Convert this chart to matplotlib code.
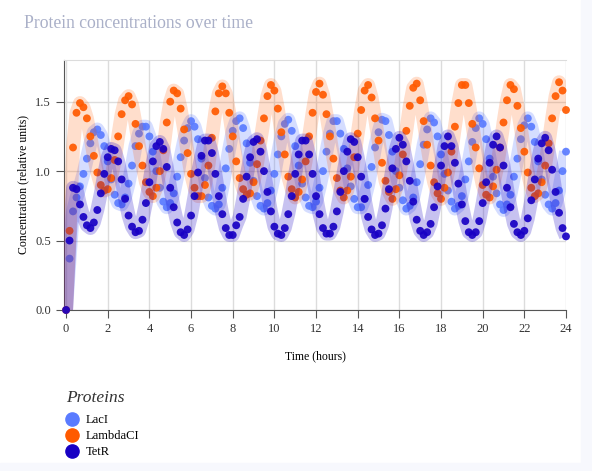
import numpy as np
import matplotlib
matplotlib.use("Agg")
import matplotlib.pyplot as plt
from matplotlib.lines import Line2D
from matplotlib.patches import Rectangle

plt.rcParams['font.family'] = ['Liberation Serif', 'DejaVu Serif']

# sampling grid: every 10 minutes over 24 hours
hours = np.linspace(0, 24, 145)

laci = [
    0.00, 0.37, 0.71, 0.81, 0.89, 0.98, 1.09, 1.20, 1.28, 1.30,
    1.26, 1.18, 1.07, 0.94, 0.83, 0.77, 0.76, 0.81, 0.91, 1.04,
    1.18, 1.27, 1.32, 1.32, 1.25, 1.14, 1.00, 0.88, 0.78, 0.74,
    0.77, 0.84, 0.96, 1.10, 1.22, 1.31, 1.36, 1.32, 1.23, 1.09,
    0.95, 0.81, 0.75, 0.73, 0.76, 0.88, 1.02, 1.16, 1.29, 1.36,
    1.38, 1.31, 1.20, 1.06, 0.93, 0.82, 0.75, 0.73, 0.77, 0.86,
    0.98, 1.12, 1.25, 1.34, 1.37, 1.29, 1.18, 1.04, 0.91, 0.81,
    0.75, 0.74, 0.78, 0.88, 1.00, 1.14, 1.27, 1.36, 1.36, 1.27,
    1.16, 1.02, 0.89, 0.80, 0.74, 0.74, 0.80, 0.90, 1.03, 1.17,
    1.28, 1.37, 1.36, 1.26, 1.14, 1.00, 0.88, 0.79, 0.73, 0.75,
    0.81, 0.92, 1.05, 1.19, 1.30, 1.38, 1.35, 1.25, 1.12, 0.98,
    0.86, 0.78, 0.73, 0.75, 0.82, 0.94, 1.07, 1.21, 1.31, 1.38,
    1.34, 1.23, 1.09, 0.96, 0.84, 0.76, 0.72, 0.76, 0.83, 0.96,
    1.09, 1.23, 1.33, 1.38, 1.32, 1.21, 1.07, 0.94, 0.83, 0.76,
    0.73, 0.77, 0.86, 1.00, 1.14,
]

lambdaci = [
    0.00, 0.57, 1.17, 1.42, 1.49, 1.46, 1.38, 1.25, 1.11, 0.99,
    0.90, 0.86, 0.87, 0.95, 1.08, 1.25, 1.41, 1.51, 1.54, 1.48,
    1.34, 1.18, 1.04, 0.92, 0.85, 0.82, 0.88, 1.00, 1.15, 1.35,
    1.50, 1.58, 1.56, 1.45, 1.30, 1.13, 0.98, 0.88, 0.82, 0.82,
    0.90, 1.04, 1.24, 1.43, 1.56, 1.61, 1.56, 1.42, 1.25, 1.07,
    0.95, 0.87, 0.83, 0.84, 0.92, 1.05, 1.22, 1.38, 1.54, 1.62,
    1.58, 1.45, 1.28, 1.12, 0.96, 0.87, 0.81, 0.85, 0.94, 1.07,
    1.25, 1.42, 1.57, 1.63, 1.55, 1.41, 1.25, 1.09, 0.95, 0.86,
    0.81, 0.86, 0.96, 1.10, 1.27, 1.44, 1.58, 1.62, 1.53, 1.38,
    1.22, 1.06, 0.93, 0.85, 0.80, 0.87, 0.97, 1.12, 1.29, 1.47,
    1.60, 1.63, 1.51, 1.36, 1.19, 1.04, 0.92, 0.84, 0.80, 0.88,
    0.99, 1.14, 1.32, 1.49, 1.62, 1.62, 1.49, 1.34, 1.17, 1.02,
    0.90, 0.83, 0.81, 0.89, 1.01, 1.17, 1.35, 1.51, 1.62, 1.59,
    1.47, 1.31, 1.14, 0.99, 0.88, 0.82, 0.84, 0.92, 1.04, 1.20,
    1.38, 1.54, 1.64, 1.58, 1.44,
]

tetr = [
    0.00, 0.50, 0.88, 0.87, 0.76, 0.67, 0.61, 0.59, 0.63, 0.72,
    0.84, 0.98, 1.10, 1.16, 1.15, 1.07, 0.94, 0.80, 0.68, 0.60,
    0.56, 0.57, 0.65, 0.77, 0.92, 1.07, 1.18, 1.21, 1.16, 1.03,
    0.88, 0.74, 0.63, 0.56, 0.54, 0.58, 0.68, 0.82, 0.99, 1.11,
    1.22, 1.22, 1.13, 0.98, 0.82, 0.69, 0.59, 0.54, 0.54, 0.61,
    0.67, 0.80, 0.96, 1.10, 1.21, 1.23, 1.14, 1.00, 0.85, 0.71,
    0.60, 0.55, 0.54, 0.59, 0.69, 0.82, 0.98, 1.12, 1.22, 1.22,
    1.12, 0.98, 0.82, 0.69, 0.59, 0.55, 0.55, 0.60, 0.71, 0.85,
    1.00, 1.14, 1.23, 1.21, 1.10, 0.96, 0.80, 0.67, 0.58, 0.54,
    0.55, 0.61, 0.73, 0.87, 1.02, 1.16, 1.24, 1.19, 1.07, 0.93,
    0.78, 0.65, 0.57, 0.54, 0.56, 0.62, 0.74, 0.89, 1.04, 1.18,
    1.25, 1.18, 1.06, 0.91, 0.76, 0.64, 0.56, 0.54, 0.56, 0.64,
    0.77, 0.92, 1.06, 1.19, 1.25, 1.17, 1.04, 0.88, 0.74, 0.62,
    0.56, 0.54, 0.57, 0.66, 0.79, 0.94, 1.09, 1.20, 1.24, 1.15,
    1.01, 0.85, 0.70, 0.59, 0.53,
]

names = ['LacI', 'LambdaCI', 'TetR']
series = [laci, lambdaci, tetr]
colors = ['#5a7bff', '#ff5a00', '#1800c4']
band_alpha = [0.25, 0.2, 0.24]

fig = plt.figure(figsize=(5.92, 4.71), dpi=100)
ax = fig.add_axes([64 / 592, 1 - 310 / 471, 502 / 592, 250 / 471])

for k, (name, vals, c) in enumerate(zip(names, series, colors)):
    ax.plot(hours, vals, color=c, alpha=band_alpha[k], lw=10,
            solid_joinstyle='round', solid_capstyle='butt', zorder=2 + 2 * k)
    ax.scatter(hours, vals, s=32, color=c, alpha=0.92, edgecolors='none',
               zorder=3 + 2 * k, clip_on=False)

ax.set_xlim(-0.1, 24)
ax.set_ylim(0, 1.8)
ax.set_xticks(range(0, 25, 2))
ax.set_yticks([0, 0.5, 1.0, 1.5])
ax.set_yticklabels(['0.0', '0.5', '1.0', '1.5'])
ax.grid(True, color='#dcdcdc', lw=1)
ax.set_axisbelow(True)
for s in ['left', 'bottom']:
    ax.spines[s].set_color('#555555')
ax.spines['top'].set_color('#dcdcdc')
ax.spines['right'].set_visible(False)
ax.tick_params(length=6, color='#555555', labelsize=9, labelcolor='#333333')

ax.set_xlabel('Time (hours)', fontsize=8.5, labelpad=11)
ax.set_ylabel('Concentration (relative units)', fontsize=8.5, labelpad=4)

fig.text(24 / 592, 1 - 23 / 471, 'Protein concentrations over time',
         fontsize=12.7, color='#aab0c8', va='center')

fig.text(66 / 592, 1 - 398 / 471, 'Proteins', fontsize=12.5, style='italic',
         color='#333333', va='center')
handles = [Line2D([], [], ls='none', marker='o', markersize=9.5, color=c)
           for c in colors]
fig.legend(handles, names, loc='upper left',
           bbox_to_anchor=(66 / 592, 1 - 414 / 471), frameon=False,
           prop={'size': 9}, handlelength=0.9, handletextpad=0.7,
           labelspacing=0.32, borderaxespad=0, borderpad=0)

# faint page strips on the right and bottom edges
fig.patches.append(Rectangle((581 / 592, 0), 11 / 592, 1, transform=fig.transFigure,
                             color='#f7f8fd', zorder=-1))
fig.patches.append(Rectangle((0, 0), 1, 8 / 471, transform=fig.transFigure,
                             color='#f7f8fd', zorder=-1))

fig.savefig('out.png', dpi=100)
